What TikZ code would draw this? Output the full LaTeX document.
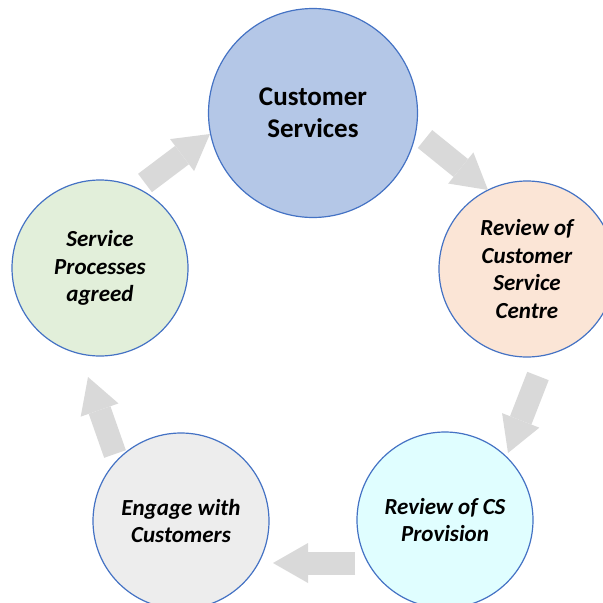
\documentclass[tikz,border=0pt]{standalone}
\usepackage{fontspec}
\setmainfont{Carlito}
\usetikzlibrary{arrows.meta}

\definecolor{ringblue}{HTML}{4472C4}
\definecolor{hubblue}{HTML}{B4C7E7}
\definecolor{centrepeach}{HTML}{FBE5D6}
\definecolor{provcyan}{HTML}{E0FEFF}
\definecolor{engagegrey}{HTML}{EDEDED}
\definecolor{agreedgreen}{HTML}{E2EFDA}
\definecolor{flowgrey}{HTML}{D9D9D9}

\begin{document}
\begin{tikzpicture}[x=1pt,y=-1pt,
  stage/.style={circle,draw=ringblue,line width=1.2pt,minimum size=176pt,
    inner sep=0pt,align=center,
    font=\fontsize{23}{27.5}\selectfont\bfseries\itshape},
  flow/.style={draw=flowgrey,line width=23pt,
    -{Triangle[width=40pt,length=35pt,line width=0pt]}}]
  \useasboundingbox (0,0) rectangle (603,603);
  \clip (0,0) rectangle (603,603);

  % the five stages of the cycle
  \node[stage,minimum size=209pt,fill=hubblue,
    font=\fontsize{27}{32}\selectfont\bfseries] (hub) at (313,113) {Customer\\Services};
  \node[stage,fill=centrepeach] (centre) at (527,269) {Review of\\Customer\\Service\\Centre};
  \node[stage,fill=provcyan] (prov) at (445,520) {Review of CS\\Provision};
  \node[stage,fill=engagegrey] (engage) at (181,521) {Engage with\\Customers};
  \node[stage,fill=agreedgreen] (agreed) at (100,268) {Service\\Processes\\agreed};

  % block arrows round the ring
  \coordinate (f1) at (145,183); \coordinate (t1) at (210,134);
  \coordinate (f2) at (425,139); \coordinate (t2) at (488,190);
  \coordinate (f3) at (538,376); \coordinate (t3) at (508,453);
  \coordinate (f4) at (355,563); \coordinate (t4) at (273,563);
  \coordinate (f5) at (115,454); \coordinate (t5) at (88,377);
  \foreach \i in {1,...,5}
    \draw[flow] (f\i) -- (t\i);
\end{tikzpicture}
\end{document}
